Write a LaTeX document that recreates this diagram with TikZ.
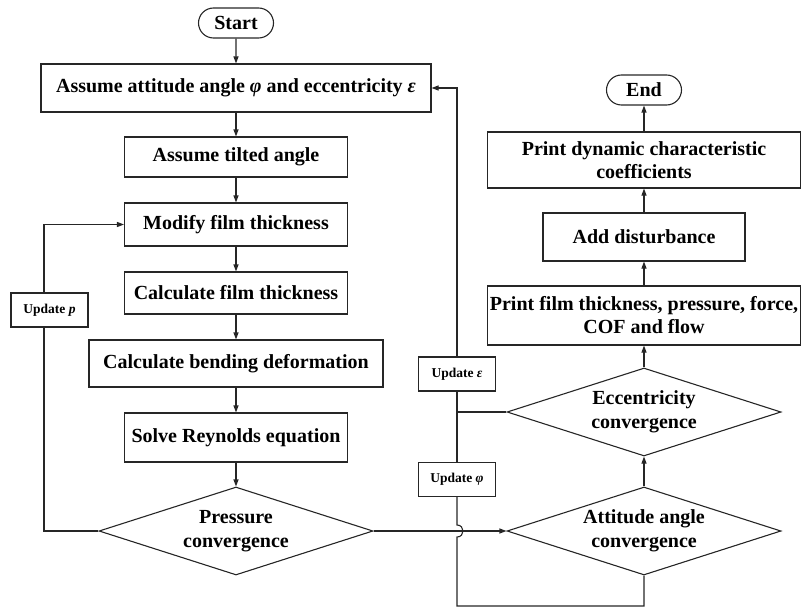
\documentclass[tikz,border=0pt]{standalone}
\usepackage{fontspec}
\setmainfont{Liberation Serif}
\usetikzlibrary{shapes.geometric,shapes.misc,arrows.meta,calc}
\begin{document}
\begin{tikzpicture}[x=1pt,y=-1pt,
  line width=1.1pt, draw=black!85,
  >={Triangle[length=7pt,width=5pt]},
  box/.style={draw=black!85, rectangle, inner sep=0pt, align=center,
    font=\bfseries\fontsize{20}{23}\selectfont},
  term/.style={draw=black!85, rounded rectangle, inner sep=0pt,
    minimum width=75pt, minimum height=30pt,
    font=\bfseries\fontsize{20}{23}\selectfont},
  dia/.style={draw=black!85, diamond, aspect=3.1, inner sep=0pt,
    minimum width=274pt, minimum height=88pt, align=center,
    font=\bfseries\fontsize{20}{24}\selectfont},
  upd/.style={draw=black!85, fill=white, rectangle, inner sep=0pt,
    minimum width=77pt, minimum height=34pt,
    font=\bfseries\fontsize{13.5}{16}\selectfont},
  conn/.style={draw=black!85, line width=1.1pt}]
\useasboundingbox (0,0) rectangle (805,607);

% left column
\node[term] (start) at (236,23) {Start};
\node[box, minimum width=390pt, minimum height=48pt] (assume) at (236,88)
  {Assume attitude angle \textit{φ} and eccentricity \textit{ε}};
\node[box, minimum width=223pt, minimum height=40pt] (tilt) at (236,157) {Assume tilted angle};
\node[box, minimum width=223pt, minimum height=43pt] (modify) at (236,224.5) {Modify film thickness};
\node[box, minimum width=223pt, minimum height=42pt] (calcft) at (236,293) {Calculate film thickness};
\node[box, minimum width=294pt, minimum height=47pt] (bend) at (236,363.5) {Calculate bending deformation};
\node[box, minimum width=223pt, minimum height=49pt] (solve) at (236,437.5) {Solve Reynolds equation};
\node[dia] (pc) at (236,531) {Pressure\\convergence};
\node[upd] (updp) at (49.5,310) {Update \textit{p}};

% right column
\node[term] (end) at (644,90) {End};
\node[box, minimum width=313pt, minimum height=56pt] (printdyn) at (644,160)
  {Print dynamic characteristic\\coefficients};
\node[box, minimum width=202pt, minimum height=48pt] (adddist) at (644,237) {Add disturbance};
\node[box, minimum width=313pt, minimum height=59pt] (printfilm) at (644,315.5)
  {Print film thickness, pressure, force,\\COF and flow};
\node[dia] (ecc) at (644,412) {Eccentricity\\convergence};
\node[dia] (att) at (644,531) {Attitude angle\\convergence};

\coordinate (lx) at (44,0);
\coordinate (rx) at (457,606);

% update boxes on the return line
\node[upd] (upde) at (457,374) {Update \textit{ε}};
\node[upd] (updphi) at (457,479.5) {Update \textit{φ}};

% main flow
\draw[conn,->] (start) -- (assume);
\draw[conn,->] (assume) -- (tilt);
\draw[conn,->] (tilt) -- (modify);
\draw[conn,->] (modify) -- (calcft);
\draw[conn,->] (calcft) -- (bend);
\draw[conn,->] (bend) -- (solve);
\draw[conn,->] (solve) -- (pc);

% pressure loop
\draw[conn] (pc.west) -- (pc.west -| lx) -- (updp.south -| lx);
\draw[conn,->] (updp.north -| lx) -- (modify.west -| lx) -- (modify.west);

% pressure converged
\draw[conn,->] (pc.east) -- (att.west);

% attitude loop with jump over the pressure line
\draw[conn] (att.south) -- (att.south |- rx) -- (rx)
  -- ($(pc.east -| rx)+(0,6)$)
  .. controls ($(pc.east -| rx)+(8,6)$) and ($(pc.east -| rx)+(8,-6)$) ..
  ($(pc.east -| rx)+(0,-6)$) -- (updphi.south);
\draw[conn] (updphi.north) -- (upde.south);
\draw[conn,->] (upde.north) |- (assume.east);
\draw[conn] (ecc.west) -- (ecc.west -| upde);

% right column flow
\draw[conn,->] (att.north) -- (ecc.south);
\draw[conn,->] (ecc.north) -- (printfilm.south);
\draw[conn,->] (printfilm.north) -- (adddist.south);
\draw[conn,->] (adddist.north) -- (printdyn.south);
\draw[conn,->] (printdyn.north) -- (end.south);
\end{tikzpicture}
\end{document}
